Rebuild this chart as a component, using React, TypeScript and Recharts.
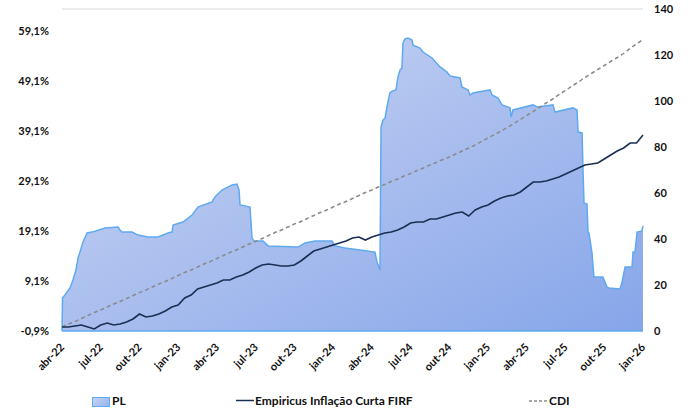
import {
  ComposedChart,
  Area,
  Line,
  XAxis,
  YAxis,
  ReferenceLine,
} from "recharts";

// months since abr-22, one tick per quarter
const xTicks = [0, 3, 6, 9, 12, 15, 18, 21, 24, 27, 30, 33, 36, 39, 42, 45];
const xLabels = [
  "abr-22", "jul-22", "out-22", "jan-23", "abr-23", "jul-23", "out-23", "jan-24",
  "abr-24", "jul-24", "out-24", "jan-25", "abr-25", "jul-25", "out-25", "jan-26",
];
const leftTicks = [-0.9, 9.1, 19.1, 29.1, 39.1, 49.1, 59.1];
const rightTicks = [0, 20, 40, 60, 80, 100, 120, 140];

// PL (R$ mi), right axis
const plT = [
  0, 0.04, 0.23, 0.62, 0.85, 1.08, 1.24, 1.39, 1.63, 1.94, 2.32, 3.33, 4.34, 4.49, 4.65,
  5.42, 5.89, 6.66, 7.44, 8.21, 8.52, 8.6, 9.37, 10.07, 10.53, 11.62, 11.85, 12.39, 13.17,
  13.55, 13.71, 13.79, 14.56, 14.72, 14.87, 15.57, 15.72, 15.96, 18.28, 18.82, 19.6, 20.91,
  21.15, 21.92, 23.08, 24.24, 24.4, 24.63, 24.71, 24.86, 25.02, 25.17, 25.4, 25.56, 25.87,
  26.02, 26.18, 26.33, 26.41, 26.57, 26.8, 27.11, 27.19, 27.73, 27.96, 28.66, 29.28, 29.82,
  30.05, 30.83, 30.98, 31.45, 31.6, 31.83, 33.15, 33.31, 33.77, 34.08, 34.7, 34.78, 34.93,
  36.48, 36.79, 38.03, 38.18, 39.58, 39.89, 39.97, 40.28, 40.35, 40.43, 40.66, 40.74, 40.82,
  41.05, 41.2, 41.9, 42.21, 42.37, 43.22, 43.38, 43.61, 44.15, 44.23, 44.38, 44.54, 44.92, 45,
];
const plV = [
  0, 14.3, 15.7, 18.7, 22.2, 26.5, 31.7, 34.3, 38.7, 42.6, 43.0, 44.8, 45.2, 43.9, 43.0,
  43.0, 41.7, 40.9, 40.9, 42.6, 43.0, 46.1, 47.4, 50.4, 53.9, 56.1, 58.3, 61.3, 63.5,
  63.9, 61.3, 54.8, 53.9, 40.4, 39.1, 39.1, 38.3, 37.0, 36.5, 38.3, 39.1, 39.1,
  37.0, 36.1, 35.2, 34.3, 30.0, 26.5, 88.7, 91.7, 92.6, 97.4, 103.5, 104.3, 104.8,
  110.4, 113.5, 114.3, 125.2, 127.0, 127.4, 126.5, 124.3, 123.0, 121.3, 118.7, 114.8, 112.6,
  110.9, 110.0, 106.1, 104.8, 102.6, 103.5, 104.8, 102.6, 101.3, 98.3, 97.0, 93.0, 96.1,
  98.3, 97.4, 98.3, 95.2, 97.0, 96.1, 86.5, 86.1, 70.9, 55.7, 55.2, 43.0, 42.6,
  33.9, 23.5, 23.5, 19.1, 18.7, 18.3, 21.3, 27.8, 27.8, 34.3, 34.3, 43.0, 43.5, 45.7,
];

// accumulated return (%), half-month steps, left axis
const empiricus = [
  -0.1, -0.1, 0.1, 0.3, -0.1, -0.5, 0.3, 0.7, 0.3, 0.5, 0.9, 1.5, 2.5, 1.9, 2.1, 2.5, 3.1,
  3.9, 4.3, 5.7, 6.3, 7.5, 7.9, 8.3, 8.7, 9.3, 9.3, 9.9, 10.3, 10.9, 11.7, 12.3, 12.5, 12.3,
  12.1, 12.1, 12.3, 13.1, 14.1, 15.1, 15.5, 15.9, 16.3, 16.7, 17.1, 17.7, 17.9, 17.3, 17.9,
  18.3, 18.7, 18.9, 19.3, 19.9, 20.7, 20.9, 20.9, 21.5, 21.5, 21.9, 22.3, 22.7, 22.9, 22.1,
  23.3, 23.9, 24.3, 25.1, 25.7, 26.1, 26.3, 26.9, 27.9, 28.9, 28.9, 29.1, 29.5, 29.9, 30.5,
  31.1, 31.7, 32.3, 32.5, 32.7, 33.5, 34.3, 35.1, 35.7, 36.7, 36.7, 38.3,
];
const cdi = [
  -0.1, 0.5, 1.0, 1.6, 2.2, 2.8, 3.3, 3.9, 4.5, 5.0, 5.6, 6.2, 6.8, 7.3, 7.9, 8.5, 9.0,
  9.6, 10.2, 10.8, 11.3, 11.9, 12.5, 13.0, 13.6, 14.2, 14.8, 15.3, 15.9, 16.5, 17.0, 17.6,
  18.2, 18.8, 19.3, 19.9, 20.5, 21.0, 21.6, 22.2, 22.8, 23.3, 23.9, 24.5, 25.0, 25.6, 26.2,
  26.8, 27.3, 27.9, 28.4, 29.0, 29.5, 30.1, 30.6, 31.2, 31.7, 32.3, 32.8, 33.4, 33.9, 34.5,
  35.1, 35.7, 36.3, 37.0, 37.7, 38.4, 39.1, 39.8, 40.6, 41.4, 42.2, 43.0, 43.8, 44.7, 45.5,
  46.4, 47.2, 48.1, 48.9, 49.8, 50.6, 51.4, 52.2, 53.0, 53.8, 54.6, 55.6, 56.5, 57.4,
];

const plRows = plT.map((t, i) => ({ t, pl: plV[i] }));
const lineRows = empiricus.map((v, i) => ({ t: i / 2, emp: v, cdi: cdi[i] }));

const FONT = "Lato, 'Liberation Sans', sans-serif";
const PL_STROKE = "#5fa9ef";
const NAVY = "#1b2f52";
const GRAY = "#8a8a8a";

function XTick(props: any) {
  const { x, y, payload } = props;
  const idx = xTicks.indexOf(payload.value);
  return (
    <text
      x={x + 3}
      y={y + 15}
      transform={`rotate(-45, ${x + 3}, ${y + 15})`}
      textAnchor="end"
      fontSize={11}
      fontWeight={700}
      fill="#111"
      fontFamily={FONT}
    >
      {xLabels[idx]}
    </text>
  );
}

function Legend() {
  const txt = {
    position: "absolute" as const,
    top: 394,
    fontSize: 12,
    fontWeight: 700,
    fontFamily: FONT,
    color: "#111",
    lineHeight: "14px",
    whiteSpace: "nowrap" as const,
  };
  return (
    <>
      <div
        style={{
          position: "absolute",
          left: 92,
          top: 397,
          width: 16,
          height: 8,
          background: "linear-gradient(135deg, #c6d3f3, #98b3ec)",
          border: `1px solid ${PL_STROKE}`,
        }}
      />
      <div style={{ ...txt, left: 112 }}>PL</div>
      <svg style={{ position: "absolute", left: 236, top: 396 }} width={18} height={10}>
        <line x1={0} y1={4.5} x2={18} y2={4.5} stroke={NAVY} strokeWidth={1.5} />
      </svg>
      <div style={{ ...txt, left: 255 }}>Empiricus Inflação Curta FIRF</div>
      <svg style={{ position: "absolute", left: 529, top: 396 }} width={18} height={10}>
        <line x1={0} y1={5} x2={18} y2={5} stroke={GRAY} strokeWidth={1.5} strokeDasharray="3 2" />
      </svg>
      <div style={{ ...txt, left: 549 }}>CDI</div>
    </>
  );
}

export default function App() {
  return (
    <div
      style={{
        position: "absolute",
        left: 0,
        top: 0,
        width: 691,
        height: 410,
        overflow: "hidden",
        background: "#fff",
      }}
    >
      <ComposedChart
        width={691}
        height={410}
        margin={{ top: 9, right: 0, bottom: 0, left: 0 }}
      >
        <defs>
          <linearGradient id="plFill" x1="0" y1="0" x2="1" y2="1">
            <stop offset="0%" stopColor="#cdd8f4" />
            <stop offset="100%" stopColor="#86a5e9" />
          </linearGradient>
        </defs>
        <XAxis
          dataKey="t"
          type="number"
          domain={[0, 45]}
          ticks={xTicks}
          interval={0}
          height={79}
          tickLine={false}
          tickSize={0}
          axisLine={{ stroke: PL_STROKE, strokeWidth: 1.5 }}
          tick={<XTick />}
          allowDuplicatedCategory={false}
        />
        <YAxis
          yAxisId="left"
          orientation="left"
          width={62}
          domain={[-0.9, 63.5]}
          ticks={leftTicks}
          interval={0}
          axisLine={false}
          tickLine={false}
          tickSize={0}
          tickMargin={13}
          tickFormatter={(v: number) => v.toFixed(1).replace(".", ",") + "%"}
          tick={{ fontSize: 11, fontWeight: 700, fill: "#111", fontFamily: FONT }}
        />
        <YAxis
          yAxisId="right"
          orientation="right"
          width={48}
          domain={[0, 140]}
          ticks={rightTicks}
          interval={0}
          axisLine={false}
          tickLine={false}
          tickSize={0}
          tickMargin={11}
          tick={{ fontSize: 11, fontWeight: 700, fill: "#111", fontFamily: FONT, textAnchor: "start" }}
        />
        <ReferenceLine yAxisId="right" y={140} stroke="#d9d9d9" strokeWidth={1} />
        <Area
          yAxisId="right"
          data={plRows}
          dataKey="pl"
          type="linear"
          stroke={PL_STROKE}
          strokeWidth={1.5}
          fill="url(#plFill)"
          fillOpacity={1}
          isAnimationActive={false}
          dot={false}
          activeDot={false}
        />
        <Line
          yAxisId="left"
          data={lineRows}
          dataKey="cdi"
          type="monotone"
          stroke={GRAY}
          strokeWidth={1.5}
          strokeDasharray="4 3"
          dot={false}
          activeDot={false}
          isAnimationActive={false}
        />
        <Line
          yAxisId="left"
          data={lineRows}
          dataKey="emp"
          type="linear"
          stroke={NAVY}
          strokeWidth={1.6}
          dot={false}
          activeDot={false}
          isAnimationActive={false}
        />
      </ComposedChart>
      <Legend />
    </div>
  );
}
